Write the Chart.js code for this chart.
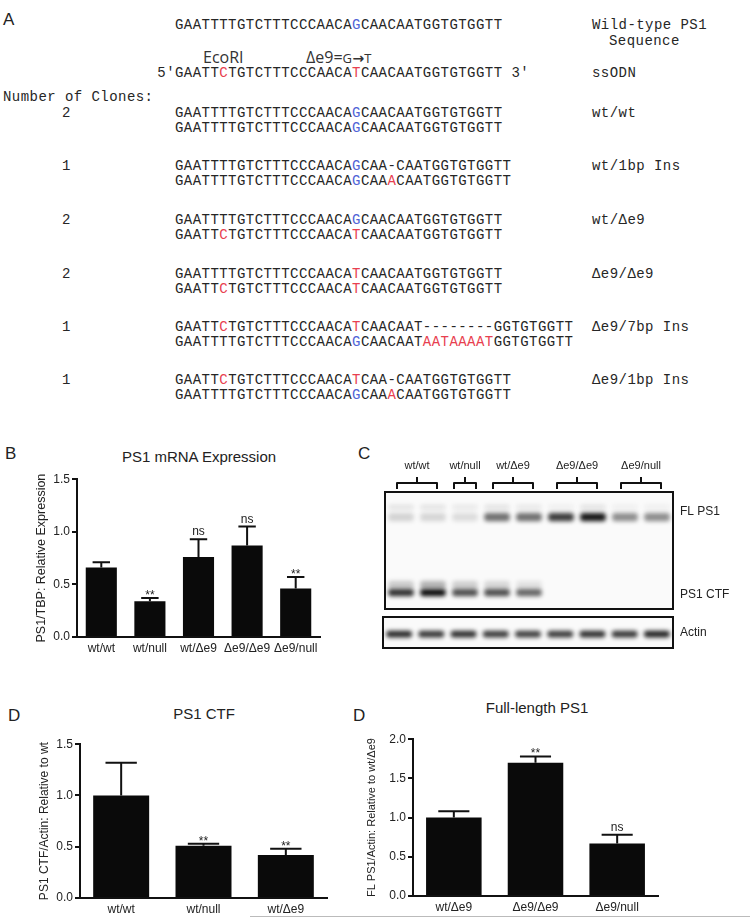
<!DOCTYPE html>
<html>
<head>
<meta charset="utf-8">
<script src="https://cdn.jsdelivr.net/npm/chart.js@4.4.1/dist/chart.umd.min.js"></script>
<style>
  body { margin: 0; background: #fff; }
  #page { position: relative; width: 750px; height: 919px; overflow: hidden;
          font-family: 'Liberation Sans', Arial, sans-serif; color: #1a1a1a; }
  .abs { position: absolute; white-space: pre; }
  .seq { font-family: 'Liberation Mono', monospace; font-size: 14px; letter-spacing: 0.45px;
         line-height: 16px; color: #262626; }
  .note { font-family: 'Open Sans', sans-serif; font-size: 16px; line-height: 16px; color: #333; }
  .note .sc { font-size: 13px; letter-spacing: 0.5px; }
  .note .ar { font-family: 'DejaVu Sans', sans-serif; font-weight: bold; font-size: 14px; }
  .r { color: #e8404f; }
  .b { color: #4f63d6; }
  .panel { font-size: 17px; line-height: 20px; color: #222; }
  .title { font-size: 15px; line-height: 16px; color: #222; transform: translateX(-50%); }
  canvas { position: absolute; }
  #edge { position: absolute; left: 250px; top: 916px; width: 500px; height: 1px; background: #bbb; }
</style>
</head>
<body>
<div id="page">
  <canvas id="mrna"></canvas>
  <canvas id="blot"></canvas>
  <canvas id="actin"></canvas>
  <canvas id="ctf"></canvas>
  <canvas id="fl"></canvas>
  <div id="edge"></div>
</div>
<script>
// Panel A: sequences of the edited clones ([x] = blue, {x} = red)
const wtSeq = 'GAATTTTGTCTTTCCCAACA[G]CAACAATGGTGTGGTT';
const ssodnSeq = "5'GAATT{C}TGTCTTTCCCAACA{T}CAACAATGGTGTGGTT 3'";
const cloneGenotypes = ['wt/wt', 'wt/1bp Ins', 'wt/Δe9', 'Δe9/Δe9', 'Δe9/7bp Ins', 'Δe9/1bp Ins'];
const cloneCounts = [2, 1, 2, 2, 1, 1];
const alleleTop = [
  'GAATTTTGTCTTTCCCAACA[G]CAACAATGGTGTGGTT',
  'GAATTTTGTCTTTCCCAACA[G]CAA-CAATGGTGTGGTT',
  'GAATTTTGTCTTTCCCAACA[G]CAACAATGGTGTGGTT',
  'GAATTTTGTCTTTCCCAACA{T}CAACAATGGTGTGGTT',
  'GAATT{C}TGTCTTTCCCAACA{T}CAACAAT--------GGTGTGGTT',
  'GAATT{C}TGTCTTTCCCAACA{T}CAA-CAATGGTGTGGTT'
];
const alleleBottom = [
  'GAATTTTGTCTTTCCCAACA[G]CAACAATGGTGTGGTT',
  'GAATTTTGTCTTTCCCAACA[G]CAA{A}CAATGGTGTGGTT',
  'GAATT{C}TGTCTTTCCCAACA{T}CAACAATGGTGTGGTT',
  'GAATT{C}TGTCTTTCCCAACA{T}CAACAATGGTGTGGTT',
  'GAATTTTGTCTTTCCCAACA[G]CAACAAT{AATAAAAT}GGTGTGGTT',
  'GAATTTTGTCTTTCCCAACA[G]CAA{A}CAATGGTGTGGTT'
];

// Panel B: PS1 mRNA
const mrnaGroups = ['wt/wt', 'wt/null', 'wt/Δe9', 'Δe9/Δe9', 'Δe9/null'];
const mrnaMeans = [0.66, 0.34, 0.76, 0.87, 0.46];
const mrnaSem = [0.05, 0.03, 0.17, 0.18, 0.11];
const mrnaSig = ['', '**', 'ns', 'ns', '**'];
const mrnaTicks = [0, 0.5, 1.0, 1.5];

// Panel C: western blot, 9 lanes, band intensity 0..1
const laneIds = [1, 2, 3, 4, 5, 6, 7, 8, 9];
const blotGroups = ['wt/wt', 'wt/null', 'wt/Δe9', 'Δe9/Δe9', 'Δe9/null'];
const blotGroupLanes = [[0, 1], [2, 2], [3, 4], [5, 6], [7, 8]];
const flUpperIntensity = [0.1, 0.1, 0.08, 0.1, 0.08, 0.05, 0.1, 0.05, 0.05];
const flIntensity = [0.16, 0.15, 0.12, 0.58, 0.58, 0.8, 0.95, 0.45, 0.45];
const ctfSmearIntensity = [0.2, 0.3, 0.18, 0.15, 0.1, 0, 0, 0, 0];
const ctfIntensity = [0.85, 1.0, 0.72, 0.72, 0.62, 0, 0, 0, 0];
const actinIntensity = [0.88, 0.82, 0.85, 0.8, 0.78, 0.8, 0.85, 0.82, 0.9];

// Panel D: PS1 CTF and full-length PS1
const ctfGroups = ['wt/wt', 'wt/null', 'wt/Δe9'];
const ctfMeans = [1.0, 0.51, 0.42];
const ctfSem = [0.32, 0.02, 0.06];
const ctfSig = ['', '**', '**'];
const flGroups = ['wt/Δe9', 'Δe9/Δe9', 'Δe9/null'];
const flMeans = [1.0, 1.70, 0.67];
const flSem = [0.08, 0.08, 0.11];
const flSig = ['', '**', 'ns'];

const INK = '#111';
const FONT = 'Liberation Sans';
const page = document.getElementById('page');

function markup(s) {
  return s.replace(/\[([^\]]+)\]/g, '<span class="b">$1</span>')
          .replace(/\{([^}]+)\}/g, '<span class="r">$1</span>');
}

function place(html, x, y, cls) {
  const d = document.createElement('div');
  d.className = 'abs ' + cls;
  d.innerHTML = html;
  d.style.left = x + 'px';
  d.style.top = (y - 8) + 'px';
  page.appendChild(d);
  return d;
}

// --- panel A text ---
place('A', 3, 18, 'panel');
place(markup(wtSeq), 175, 25, 'seq');
place('Wild-type PS1', 592, 25, 'seq');
place('Sequence', 609, 41, 'seq');
place('EcoRI', 203, 57, 'note');
place('Δe9=<span class="sc">G</span><span class="ar">→</span><span class="sc">T</span>', 306, 57, 'note');
place(markup(ssodnSeq), 175 - 2 * 8.85, 73, 'seq');
place('ssODN', 592, 73, 'seq');
place('Number of Clones:', 3, 97, 'seq');
const rowY = [113, 166, 220, 274, 327, 380];
cloneGenotypes.forEach((g, i) => {
  place(String(cloneCounts[i]), 62, rowY[i], 'seq');
  place(markup(alleleTop[i]), 175, rowY[i], 'seq');
  place(markup(alleleBottom[i]), 175, rowY[i] + 15, 'seq');
  place(g, 592, rowY[i], 'seq');
});

// --- panel letters and chart titles ---
place('B', 5, 452, 'panel');
place('C', 358, 452, 'panel');
place('D', 8, 714, 'panel');
place('D', 353, 714, 'panel');
place('PS1 mRNA Expression', 199, 457, 'title');
place('PS1 CTF', 204, 714, 'title');
place('Full-length PS1', 537, 708, 'title');

function sizeCanvas(id, box) {
  const c = document.getElementById(id);
  c.width = box.width; c.height = box.height;
  c.style.left = box.left + 'px'; c.style.top = box.top + 'px';
  c.style.width = box.width + 'px'; c.style.height = box.height + 'px';
  return c;
}

function semPlugin(means, sem, sig) {
  return {
    id: 'semBars',
    afterDatasetsDraw(chart) {
      const { ctx, scales: { y } } = chart;
      const bars = chart.getDatasetMeta(0).data;
      ctx.save();
      ctx.strokeStyle = INK; ctx.fillStyle = '#222'; ctx.lineWidth = 2;
      ctx.font = '12px "' + FONT + '"';
      ctx.textAlign = 'center'; ctx.textBaseline = 'alphabetic';
      bars.forEach((bar, i) => {
        const yTop = y.getPixelForValue(means[i] + sem[i]);
        const half = bar.width * 0.28;
        ctx.beginPath();
        ctx.moveTo(bar.x, bar.y); ctx.lineTo(bar.x, yTop);
        ctx.moveTo(bar.x - half, yTop); ctx.lineTo(bar.x + half, yTop);
        ctx.stroke();
        if (sig[i] === '**') ctx.fillText(sig[i], bar.x, yTop + 1);
        else if (sig[i]) ctx.fillText(sig[i], bar.x, yTop - 4);
      });
      ctx.restore();
    }
  };
}

function barPanel(id, box, groups, means, sem, sig, ax) {
  const canvas = sizeCanvas(id, box);
  return new Chart(canvas, {
    type: 'bar',
    data: {
      labels: groups,
      datasets: [{
        data: means,
        backgroundColor: '#0a0a0a',
        barPercentage: ax.barPct,
        categoryPercentage: 1
      }]
    },
    options: {
      responsive: false,
      animation: false,
      devicePixelRatio: 1,
      layout: { autoPadding: false, padding: { top: ax.padTop, right: ax.padRight, bottom: 0, left: 0 } },
      plugins: { legend: { display: false }, tooltip: { enabled: false } },
      scales: {
        x: {
          grid: { display: false, drawTicks: false },
          border: { color: INK, width: 2 },
          ticks: { color: '#222', font: { family: FONT, size: 12 }, padding: 4, maxRotation: 0, autoSkip: false },
          afterFit: s => { s.height = ax.xHeight; }
        },
        y: {
          min: 0,
          max: ax.max,
          afterBuildTicks: s => { s.ticks = ax.ticks.map(v => ({ value: v })); },
          ticks: { color: '#222', font: { family: FONT, size: 12 }, padding: 2, callback: v => v.toFixed(1) },
          grid: { drawOnChartArea: false, drawTicks: true, tickLength: 5, color: INK, lineWidth: 2 },
          border: { color: INK, width: 2 },
          title: { display: true, text: ax.title, color: '#222', font: { family: FONT, size: ax.titleSize }, padding: { top: ax.titlePad, bottom: 0 } },
          afterFit: s => { s.width = ax.yWidth; }
        }
      }
    },
    plugins: [semPlugin(means, sem, sig)]
  });
}

barPanel('mrna', { left: 28, top: 470, width: 300, height: 189 },
  mrnaGroups, mrnaMeans, mrnaSem, mrnaSig,
  { barPct: 0.64, padTop: 9, padRight: 8, xHeight: 22, yWidth: 49, max: 1.5, ticks: mrnaTicks,
    title: 'PS1/TBP: Relative Expression', titleSize: 12.5, titlePad: 6 });

barPanel('ctf', { left: 30, top: 735, width: 302, height: 184 },
  ctfGroups, ctfMeans, ctfSem, ctfSig,
  { barPct: 0.68, padTop: 9, padRight: 5, xHeight: 21, yWidth: 50, max: 1.5, ticks: [0, 0.5, 1.0, 1.5],
    title: 'PS1 CTF/Actin: Relative to wt', titleSize: 12, titlePad: 7 });

barPanel('fl', { left: 360, top: 730, width: 305, height: 187 },
  flGroups, flMeans, flSem, flSig,
  { barPct: 0.68, padTop: 9, padRight: 7, xHeight: 21, yWidth: 53, max: 2.0, ticks: [0, 0.5, 1.0, 1.5, 2.0],
    title: 'FL PS1/Actin: Relative to wt/Δe9', titleSize: 11, titlePad: 5 });

// --- panel C: blot drawn as floating bars on a lane axis ---
function band(intensity, range) {
  return {
    data: intensity.map(() => range),
    backgroundColor: intensity.map(a => `rgba(12,12,12,${a})`),
    barPercentage: 0.8,
    categoryPercentage: 1,
    grouped: false,
    borderWidth: 0,
    borderRadius: 3,
    borderSkipped: false
  };
}

function gelPlugin(labels, brackets) {
  return {
    id: 'gel',
    beforeDatasetsDraw(chart) {
      const { ctx, chartArea: a } = chart;
      ctx.save();
      ctx.fillStyle = '#fafafa';
      ctx.fillRect(a.left, a.top, a.right - a.left, a.bottom - a.top);
      ctx.filter = 'blur(2px)';
    },
    afterDatasetsDraw(chart) {
      chart.ctx.restore();
    },
    afterDraw(chart) {
      const { ctx, chartArea: a, scales: { x, y } } = chart;
      ctx.save();
      ctx.strokeStyle = INK; ctx.lineWidth = 2;
      ctx.strokeRect(a.left, a.top, a.right - a.left, a.bottom - a.top);
      ctx.fillStyle = '#222';
      ctx.font = '12px "' + FONT + '"';
      ctx.textAlign = 'left'; ctx.textBaseline = 'middle';
      labels.forEach(([text, v]) => ctx.fillText(text, a.right + 7, y.getPixelForValue(v)));
      if (brackets) {
        ctx.font = '11px "' + FONT + '"';
        ctx.textAlign = 'center';
        ctx.lineJoin = 'round';
        blotGroupLanes.forEach(([l0, l1], g) => {
          const pad = l0 === l1 ? 11 : 4;
          const l = x.getPixelForValue(l0) - pad, r = x.getPixelForValue(l1) + pad;
          const m = (l + r) / 2, yb = a.top - 9;
          ctx.beginPath();
          ctx.moveTo(l, a.top - 3); ctx.lineTo(l, yb); ctx.lineTo(r, yb); ctx.lineTo(r, a.top - 3);
          ctx.moveTo(m, yb); ctx.lineTo(m, yb - 6);
          ctx.stroke();
          ctx.fillText(blotGroups[g], m, a.top - 26);
        });
      }
      ctx.restore();
    }
  };
}

function blotOptions(pad) {
  return {
    responsive: false,
    animation: false,
    devicePixelRatio: 1,
    layout: { autoPadding: false, padding: pad },
    plugins: { legend: { display: false }, tooltip: { enabled: false } },
    scales: {
      x: { display: false, offset: true },
      y: { display: false, min: 0, max: 100, reverse: true }
    }
  };
}

new Chart(sizeCanvas('blot', { left: 383, top: 455, width: 367, height: 157 }), {
  type: 'bar',
  data: {
    labels: laneIds,
    datasets: [
      band(flUpperIntensity, [11, 15]),
      band(flIntensity, [18, 25]),
      band(ctfSmearIntensity, [76, 83]),
      band(ctfIntensity, [83, 89])
    ]
  },
  options: blotOptions({ left: 2, top: 37, right: 77, bottom: 3 }),
  plugins: [gelPlugin([['FL PS1', 17], ['PS1 CTF', 88]], true)]
});

new Chart(sizeCanvas('actin', { left: 381, top: 614, width: 369, height: 37 }), {
  type: 'bar',
  data: {
    labels: laneIds,
    datasets: [band(actinIntensity, [44, 66])]
  },
  options: blotOptions({ left: 2, top: 3, right: 77, bottom: 3 }),
  plugins: [gelPlugin([['Actin', 52]], false)]
});
</script>
</body>
</html>
